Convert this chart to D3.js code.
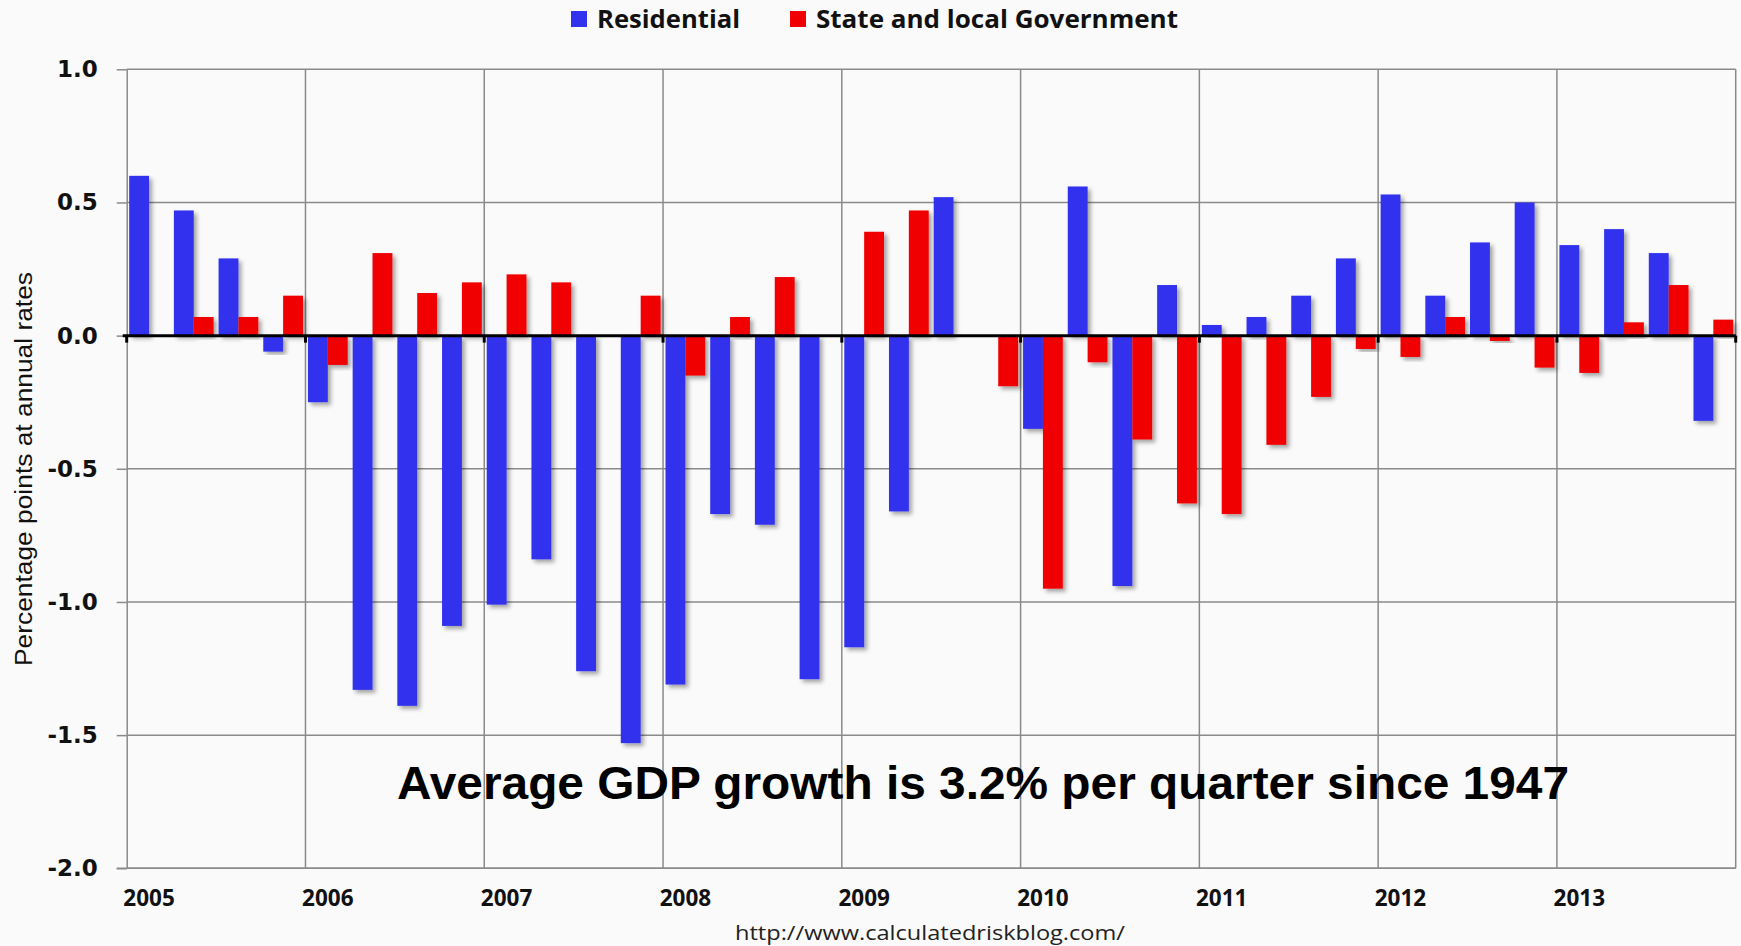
<!DOCTYPE html>
<html>
<head>
<meta charset="utf-8">
<script src="https://cdn.jsdelivr.net/npm/d3@7"></script>
<style>
  html, body { margin: 0; padding: 0; background: #fafafa; }
  svg { display: block; }
</style>
</head>
<body>
<div id="chart"></div>
<script>
// quarters 2005Q1 .. 2013Q4
const years = [2005, 2006, 2007, 2008, 2009, 2010, 2011, 2012, 2013];
const quarters = years.flatMap(y => ["Q1", "Q2", "Q3", "Q4"].map(q => y + q));

// contributions to GDP growth, percentage points at annual rates
const residential = [
  0.60, 0.47, 0.29, -0.06,
  -0.25, -1.33, -1.39, -1.09,
  -1.01, -0.84, -1.26, -1.53,
  -1.31, -0.67, -0.71, -1.29,
  -1.17, -0.66, 0.52, 0.00,
  -0.35, 0.56, -0.94, 0.19,
  0.04, 0.07, 0.15, 0.29,
  0.53, 0.15, 0.35, 0.50,
  0.34, 0.40, 0.31, -0.32
];
const stateLocal = [
  0.00, 0.07, 0.07, 0.15,
  -0.11, 0.31, 0.16, 0.20,
  0.23, 0.20, 0.00, 0.15,
  -0.15, 0.07, 0.22, 0.00,
  0.39, 0.47, 0.00, -0.19,
  -0.95, -0.10, -0.39, -0.63,
  -0.67, -0.41, -0.23, -0.05,
  -0.08, 0.07, -0.02, -0.12,
  -0.14, 0.05, 0.19, 0.06
];
const seriesNames = ["Residential", "State and local Government"];
const seriesColors = ["#3333ee", "#f00000"];
const yTicks = [-2.0, -1.5, -1.0, -0.5, 0.0, 0.5, 1.0];

const W = 1741, H = 946;
const plot = {left: 126.7, right: 1735.7, top: 69.3, bottom: 868.3};

const data = quarters.map((q, i) => ({q, values: [residential[i], stateLocal[i]]}));

const svg = d3.select("#chart").append("svg")
  .attr("width", W).attr("height", H);

const defs = svg.append("defs");
const f = defs.append("filter").attr("id", "shadow")
  .attr("x", "-20%").attr("y", "-20%").attr("width", "160%").attr("height", "140%");
f.append("feDropShadow").attr("dx", 3).attr("dy", 3)
  .attr("stdDeviation", 2).attr("flood-color", "#000").attr("flood-opacity", 0.35);

// scales
const x = d3.scaleBand().domain(quarters).range([plot.left, plot.right]).padding(0);
const xs = d3.scaleBand().domain([0, 1]).range([0, x.bandwidth()]).paddingOuter(0.125);
const y = d3.scaleLinear().domain([-2, 1]).range([plot.bottom, plot.top]);

// y axis ticks + labels
const yAxis = svg.append("g")
  .attr("transform", `translate(${plot.left},0)`)
  .call(d3.axisLeft(y).tickValues(yTicks).tickSizeInner(10).tickSizeOuter(0)
    .tickFormat(d => d.toFixed(1)));
yAxis.select(".domain").attr("stroke", "#8a8a8a").attr("stroke-width", 1.5);
yAxis.selectAll(".tick line").attr("stroke", "#8a8a8a").attr("stroke-width", 1.5);
yAxis.selectAll(".tick text")
  .attr("x", -29)
  .style("font-family", "'DejaVu Sans', Verdana, sans-serif")
  .style("font-weight", "bold")
  .style("font-size", "23px")
  .attr("fill", "#111");

// horizontal grid
svg.append("g").selectAll("line")
  .data(yTicks.filter(d => d !== 0))
  .join("line")
  .attr("x1", plot.left).attr("x2", plot.right)
  .attr("y1", d => y(d)).attr("y2", d => y(d))
  .attr("stroke", "#8a8a8a").attr("stroke-width", 1.5);

// vertical year lines
const yearStarts = years.map(yr => yr + "Q1");
svg.append("g").selectAll("line")
  .data(yearStarts.slice(1).concat(["end"]))
  .join("line")
  .attr("x1", d => d === "end" ? plot.right : x(d))
  .attr("x2", d => d === "end" ? plot.right : x(d))
  .attr("y1", plot.top).attr("y2", plot.bottom)
  .attr("stroke", "#8a8a8a").attr("stroke-width", 1.5);

// bars
const groups = svg.append("g").selectAll("g")
  .data(data)
  .join("g")
  .attr("transform", d => `translate(${x(d.q)},0)`);

groups.selectAll("rect")
  .data(d => d.values.map((v, k) => ({k, v})).filter(e => e.v !== 0))
  .join("rect")
  .attr("x", e => xs(e.k))
  .attr("width", xs.bandwidth())
  .attr("y", e => y(Math.max(0, e.v)))
  .attr("height", e => Math.abs(y(e.v) - y(0)))
  .attr("fill", e => seriesColors[e.k])
  .attr("filter", "url(#shadow)");

// zero line with year ticks
svg.append("line")
  .attr("x1", plot.left - 4).attr("x2", plot.right)
  .attr("y1", y(0)).attr("y2", y(0))
  .attr("stroke", "#000").attr("stroke-width", 3);
svg.append("g").selectAll("line")
  .data(yearStarts.concat(["end"]))
  .join("line")
  .attr("x1", d => d === "end" ? plot.right : x(d))
  .attr("x2", d => d === "end" ? plot.right : x(d))
  .attr("y1", y(0)).attr("y2", y(0) + 7)
  .attr("stroke", "#000").attr("stroke-width", 3);

// bottom axis with year labels
const xAxis = svg.append("g")
  .attr("transform", `translate(0,${plot.bottom})`)
  .call(d3.axisBottom(x).tickValues(yearStarts).tickSize(0).tickPadding(0)
    .tickFormat(d => d.slice(0, 4)));
xAxis.select(".domain").attr("stroke", "#8a8a8a").attr("stroke-width", 1.5)
  .attr("d", `M${plot.left - 10},0H${plot.right}`);
xAxis.selectAll(".tick text")
  .attr("y", 38).attr("dy", 0)
  .style("font-family", "'Open Sans', sans-serif")
  .style("font-weight", "bold")
  .style("font-size", "22.5px")
  .attr("fill", "#111");

// y axis title
svg.append("text")
  .attr("transform", `translate(32,469) rotate(-90)`)
  .attr("text-anchor", "middle")
  .attr("textLength", 394).attr("lengthAdjust", "spacingAndGlyphs")
  .style("font-family", "'Liberation Sans Narrow', 'Liberation Sans', sans-serif")
  .style("font-size", "23px")
  .attr("fill", "#111")
  .text("Percentage points at annual rates");

// legend
const legendX = [571, 790], legendText = [[597, 143], [816, 362]];
const legend = svg.append("g");
seriesNames.forEach((name, k) => {
  legend.append("rect")
    .attr("x", legendX[k]).attr("y", 11).attr("width", 16).attr("height", 16)
    .attr("fill", seriesColors[k]);
  legend.append("text")
    .attr("x", legendText[k][0]).attr("y", 28)
    .attr("textLength", legendText[k][1]).attr("lengthAdjust", "spacingAndGlyphs")
    .style("font-family", "'Open Sans', sans-serif")
    .style("font-weight", "bold")
    .style("font-size", "25px")
    .attr("fill", "#111")
    .text(name);
});

// annotation
svg.append("text")
  .attr("x", 397).attr("y", 799)
  .attr("textLength", 1172).attr("lengthAdjust", "spacingAndGlyphs")
  .style("font-family", "'Liberation Sans', Arial, sans-serif")
  .style("font-weight", "bold")
  .style("font-size", "47px")
  .attr("fill", "#000")
  .text("Average GDP growth is 3.2% per quarter since 1947");

// source
svg.append("text")
  .attr("x", 735).attr("y", 940)
  .attr("textLength", 390).attr("lengthAdjust", "spacingAndGlyphs")
  .style("font-family", "'Open Sans', sans-serif")
  .style("font-size", "20px")
  .attr("fill", "#222")
  .text("http://www.calculatedriskblog.com/");
</script>
</body>
</html>
